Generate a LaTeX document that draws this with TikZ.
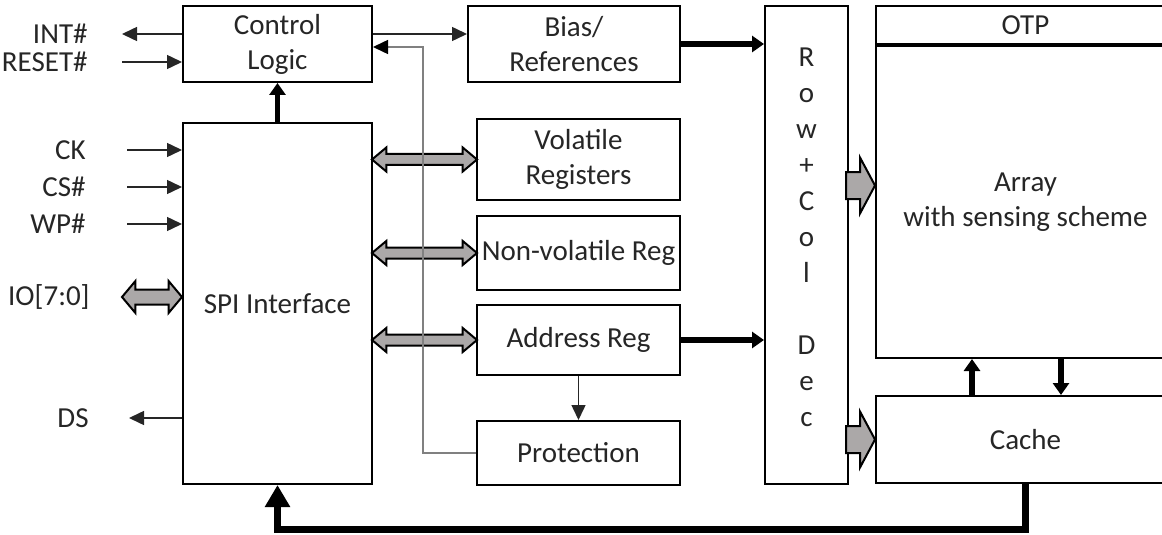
\documentclass[tikz,border=0pt]{standalone}
\usepackage{fontspec}
\setmainfont{Carlito}
\usetikzlibrary{positioning,arrows.meta,calc,shapes.arrows}
\definecolor{bdText}{RGB}{38,38,38}
\definecolor{bdGray}{RGB}{128,128,128}
\definecolor{bdFill}{RGB}{171,168,168}
\tikzset{
    base/.style={font=\fontsize{14.5}{17.5}\selectfont, align=center, text=bdText},
    block/.style={base, rectangle, draw=black, line width=1pt, fill=white, inner sep=0pt},
    pinlbl/.style={base, anchor=east, inner sep=0pt},
    sig/.style={-{Triangle[length=7.5pt,width=7pt]}, line width=0.75pt, color=black!85},
    bus/.style={-{Triangle[length=6pt,width=8pt]}, line width=2.75pt},
    loopbus/.style={-{Triangle[length=11pt,width=12pt]}, line width=3.5pt},
    fb/.style={-{Triangle[length=7.5pt,width=7pt,black]}, line width=0.75pt, color=bdGray},
    dblbus/.style={double arrow, draw=black, line width=1pt, fill=bdFill, inner xsep=0pt,
                   inner ysep=2.25pt, double arrow head extend=3.25pt,
                   double arrow tip angle=80, minimum width=11pt, minimum height=52.5pt},
    fatbus/.pic={\draw[fill=bdFill, line width=1pt, line join=miter]
                   (0,0) -- (-15,-28) -- (-15,-13.5) -- (-29,-13.5) -- (-29,13.5)
                   -- (-15,13.5) -- (-15,28) -- cycle;}
}
\begin{document}
\begin{tikzpicture}[x=0.5pt, y=-0.5pt]
  \clip (0,0) rectangle (1162,535);
  % Left column: control logic and SPI
  \node[block, minimum width=94.5pt, minimum height=38pt] (ctrl) at (277.5,44) {Control\\Logic};
  \node[block, minimum width=94.5pt, minimum height=180.5pt] (spi) at (277.5,303.5) {SPI Interface};

  % Middle column: registers
  \node[block, minimum width=106pt, minimum height=38pt] (bias) at (574,44) {Bias/\\References};
  \node[block, minimum width=101.5pt, minimum height=40.5pt] (vol) at (578.5,159.5) {Volatile\\Registers};
  \node[block, minimum width=101.5pt, minimum height=37pt, below=7pt of vol] (nvol) {Non-volatile Reg};
  \node[block, minimum width=101.5pt, minimum height=35pt, below=6.5pt of nvol] (addr) {Address Reg};
  \node[block, minimum width=101.5pt, minimum height=32pt, below=22pt of addr] (prot) {Protection};

  % Right: decoder, array, cache
  \node[block, minimum width=41.5pt, minimum height=239pt,
        label={[base, font=\fontsize{14.5}{18}\selectfont, yshift=4pt]center:{R\\o\\w\\+\\C\\o\\l\\~\\D\\e\\c}}]
        (dec) at (806.5,245) {};
  \node[block, minimum width=149.5pt, minimum height=19pt] (otp) at (1025.5,25) {OTP};
  \node[block, minimum width=149.5pt, minimum height=156pt, below=0pt of otp] (array) {Array\\with sensing scheme};
  \node[block, minimum width=149.5pt, minimum height=43.5pt, below=18pt of array] (cache) {Cache};

  % Pins
  \node[pinlbl] (int) at (88,34) {INT\#};
  \node[pinlbl] (rst) at (88,62) {RESET\#};
  \node[pinlbl] (ck) at (86,150) {CK};
  \node[pinlbl] (cs) at (86,187) {CS\#};
  \node[pinlbl] (wp) at (86,224) {WP\#};
  \node[pinlbl] (io) at (90,297) {IO[7:0]};
  \node[pinlbl] (ds) at (89,418) {DS};

  \draw[sig] (ctrl.west |- int) -- ([xshift=17pt]int.east);
  \draw[sig] ([xshift=17pt]rst.east) -- (ctrl.west |- rst);
  \draw[sig] ([xshift=20.5pt]ck.east) -- (spi.west |- ck);
  \draw[sig] ([xshift=20.5pt]cs.east) -- (spi.west |- cs);
  \draw[sig] ([xshift=20.5pt]wp.east) -- (spi.west |- wp);
  \draw[sig] (spi.west |- ds) -- ([xshift=20pt]ds.east);
  \node[dblbus, minimum height=30pt, minimum width=15pt, inner ysep=3.25pt, double arrow head extend=4.25pt,
        double arrow tip angle=100] (iobus) at ($(spi.west |- io)+(-30,0)$) {};

  % Buses
  \node[dblbus] (volbus) at ($(spi.east |- vol)!0.5!(vol.west)$) {};
  \node[dblbus] (nvolbus) at ($(spi.east |- nvol)!0.5!(nvol.west)$) {};
  \node[dblbus] (addrbus) at ($(spi.east |- addr)!0.5!(addr.west)$) {};
  \pic at ([yshift=8.25pt]array.west) {fatbus};
  \pic at (cache.west) {fatbus};

  \draw[bus] (spi.north) -- (ctrl.south);
  \draw[bus] (bias.east) -- (bias.east -| dec.west);
  \draw[bus] (addr.east) -- (addr.east -| dec.west);
  \draw[bus] ([xshift=-26.75pt]cache.north) -- ([xshift=-26.75pt]array.south);
  \draw[bus] ([xshift=17.75pt]array.south) -- ([xshift=17.75pt]cache.north);
  \draw[loopbus] (cache.south) -- ++(0,45) -| (spi.south);

  \draw[sig] ([yshift=5pt]ctrl.east) -- ([yshift=5pt]bias.west);
  \draw[sig] (addr.south) -- (prot.north);
  \draw[fb] (prot.west) -- ++(-53,0) |- ([yshift=-1.5pt]ctrl.east);
\end{tikzpicture}
\end{document}
